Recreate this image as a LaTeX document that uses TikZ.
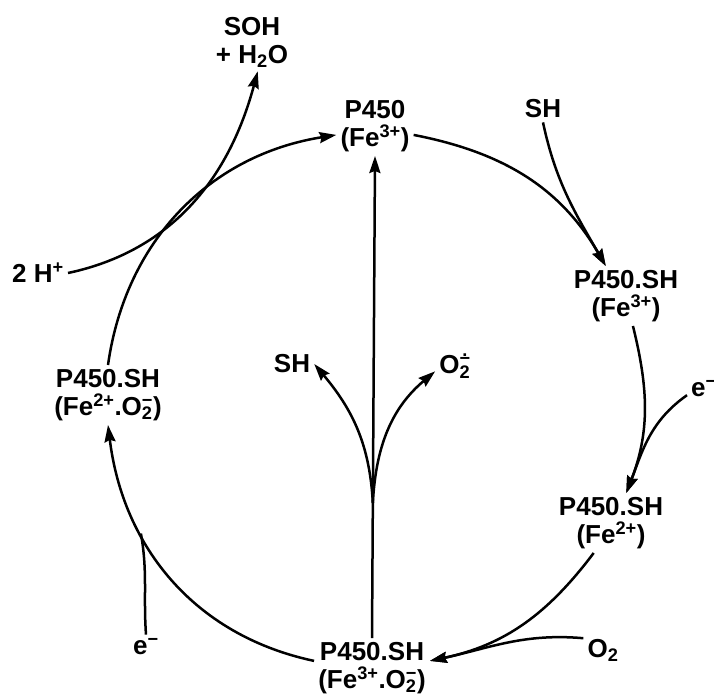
\documentclass[tikz,border=0pt]{standalone}
\usepackage{fontspec}
\setmainfont{Liberation Sans}
\usetikzlibrary{arrows.meta}

\newcommand{\sbsp}[2]{\rlap{\textsubscript{#1}}\textsuperscript{#2}}
\newcommand{\dotminus}{\ooalign{\hfil\raisebox{0.45em}{.}\hfil\cr −}}

\tikzset{
  species/.style={font=\bfseries\fontsize{26}{28}\selectfont, align=center, inner sep=4pt},
  cyc/.style={line width=2.5pt, -{Stealth[length=17pt,width=11pt,inset=2pt]}},
  feed/.style={line width=2.5pt},
}

\begin{document}
\begin{tikzpicture}[x=1pt,y=-1pt]
\useasboundingbox (0,0) rectangle (714,695);

\node[species] (top) at (375,126) {P450\\(Fe\textsuperscript{3+})};
\node[species] (n1) at (626,296) {P450.SH\\(Fe\textsuperscript{3+})};
\node[species] (n2) at (611,523) {P450.SH\\(Fe\textsuperscript{2+})};
\node[species] (n3) at (372,668) {P450.SH\\(Fe\textsuperscript{3+}.O\sbsp{2}{−})};
\node[species] (n4) at (108,395) {P450.SH\\(Fe\textsuperscript{2+}.O\sbsp{2}{−})};

\node[species] (shin) at (543,109) {SH};
\node[species] (e1) at (704,389) {e\textsuperscript{−}};
\node[species] (o2) at (603,650) {O\textsubscript{2}};
\node[species] (e2) at (146,647) {e\textsuperscript{−}};
\node[species] (hplus) at (38,273) {2 H\textsuperscript{+}};
\node[species] (soh) at (252,42) {SOH\\+ H\textsubscript{2}O};
\node[species] (shout) at (292,364) {SH};
\node[species] (o2out) at (455,366) {O\sbsp{2}{\dotminus}};

\draw[cyc] (top.-13) to[out=-11,in=120] (n1.124);
\draw[cyc] (n1.-77) to[out=-76,in=69] (n2.63);
\draw[cyc] (n2.-120) to[out=-127,in=12] (n3.7);
\draw[cyc] (n3.173) to[out=168,in=-83] coordinate[pos=0.67] (m4) (n4.south);
\draw[cyc] (n4.north) to[out=82,in=189] (top.193);

\draw[cyc] (shin.south) to[out=-78,in=120] (n1.124);
\draw[cyc] (e1.200) to[out=215,in=69] (n2.63);
\draw[cyc] (o2.149) to[out=175,in=12] (n3.7);
\draw[feed] (e2.north) to[out=94,in=-80] (m4);
\draw[cyc] (hplus.east) to[out=12,in=-105] (soh.-79);

\draw[cyc] (n3.north) -- (top.south);
\path (n3.north) -- (top.south) coordinate[pos=0.28] (fork);
\draw[cyc] (fork) to[out=93,in=-50] (shout.east);
\draw[cyc] (fork) to[out=87,in=-140] (o2out.195);

\end{tikzpicture}
\end{document}
